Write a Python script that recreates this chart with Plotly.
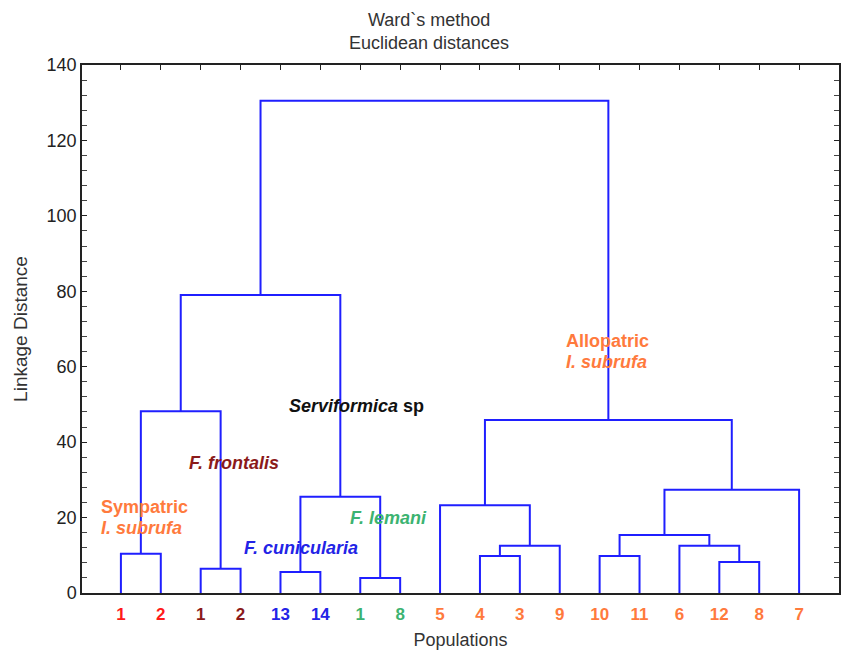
import plotly.graph_objects as go

# Leaves in dendrogram order: population number and taxon group
leaf_labels = ["1", "2", "1", "2", "13", "14", "1", "8", "5", "4", "3", "9",
               "10", "11", "6", "12", "8", "7"]
leaf_groups = ["sym", "sym", "front", "front", "cuni", "cuni", "lem", "lem",
               "allo", "allo", "allo", "allo", "allo", "allo", "allo", "allo",
               "allo", "allo"]

# Ward linkage (ids 0..17 are leaves, 18+ are merged clusters)
merge_left = [6, 4, 2, 15, 9, 12, 0, 22, 14, 23, 8, 19, 27, 28, 24, 32, 33]
merge_right = [7, 5, 3, 16, 10, 13, 1, 11, 21, 26, 25, 18, 17, 30, 20, 29, 31]
merge_height = [4.0, 5.6, 6.4, 8.2, 9.8, 9.8, 10.4, 12.5, 12.5, 15.4, 23.3,
                25.5, 27.4, 45.9, 48.2, 79.0, 130.5]

group_colors = {
    "sym": "#ff1a1a",
    "front": "#8b1a1a",
    "cuni": "#2323e6",
    "lem": "#3cb371",
    "allo": "#ff7a3d",
}

n_leaves = len(leaf_labels)
xpos = {i: i + 1 for i in range(n_leaves)}
hpos = {i: 0.0 for i in range(n_leaves)}

xs, ys = [], []
for k, (a, b, h) in enumerate(zip(merge_left, merge_right, merge_height)):
    node = n_leaves + k
    xa, xb = xpos[a], xpos[b]
    xs += [xa, xa, xb, xb, None]
    ys += [hpos[a], h, h, hpos[b], None]
    xpos[node] = (xa + xb) / 2
    hpos[node] = h

fig = go.Figure()
fig.add_trace(go.Scatter(x=xs, y=ys, mode="lines",
                         line=dict(color="#1f1fff", width=2),
                         hoverinfo="skip", showlegend=False))
# invisible trace anchoring the top tick axis
fig.add_trace(go.Scatter(x=[1], y=[0], xaxis="x2", mode="markers",
                         marker=dict(opacity=0), showlegend=False,
                         hoverinfo="skip"))

tick_vals = [i + 1 for i in range(n_leaves)]
tick_text = [f'<span style="color:{group_colors[g]}"><b>{lab}</b></span>'
             for lab, g in zip(leaf_labels, leaf_groups)]

font_main = "Liberation Sans, Arial, sans-serif"
x_range = [0.025, 19.0]

fig.update_layout(
    width=842, height=651,
    margin=dict(l=82, r=1, t=65, b=58),
    plot_bgcolor="white", paper_bgcolor="white",
    font=dict(family=font_main, color="#333333"),
    showlegend=False,
    xaxis=dict(
        range=x_range, tickmode="array", tickvals=tick_vals, ticktext=tick_text,
        ticks="", showgrid=False, zeroline=False,
        showline=True, linecolor="#222222", linewidth=1.5, mirror=True,
        tickfont=dict(size=17, family=font_main),
        ticklabelstandoff=5,
        title=dict(text="Populations", font=dict(size=18, color="#333333"),
                   standoff=10),
    ),
    xaxis2=dict(
        range=x_range, overlaying="x", side="top", tickmode="array",
        tickvals=tick_vals, showticklabels=False, ticks="inside",
        ticklen=5, tickcolor="#222222", showgrid=False, zeroline=False,
        showline=False,
    ),
    yaxis=dict(
        range=[0, 140], dtick=20, ticks="inside", ticklen=5,
        tickcolor="#222222", showgrid=False, zeroline=False,
        showline=True, linecolor="#222222", linewidth=1.5, mirror="allticks",
        tickfont=dict(size=18, family=font_main, color="#222222"),
        minor=dict(dtick=4, ticks="inside", ticklen=3, tickcolor="#444444"),
        title=dict(text="Linkage Distance", font=dict(size=19, color="#333333"),
                   standoff=14),
    ),
)

# Title lines
fig.add_annotation(text="Ward`s method", xref="paper", yref="paper",
                   x=(430 - 82) / 759, y=(593 - 20) / 528, showarrow=False,
                   font=dict(size=18, color="#333333"), xanchor="center",
                   yanchor="middle")
fig.add_annotation(text="Euclidean distances", xref="paper", yref="paper",
                   x=(430 - 82) / 759, y=(593 - 43) / 528, showarrow=False,
                   font=dict(size=18, color="#333333"), xanchor="center",
                   yanchor="middle")

# Group labels
labels = [
    ("<b>Sympatric</b>", 0.45, 22.8, group_colors["allo"]),
    ("<b><i>I. subrufa</i></b>", 0.45, 17.2, group_colors["allo"]),
    ("<b><i>F. frontalis</i></b>", 2.65, 34.5, group_colors["front"]),
    ("<b><i>F. cunicularia</i></b>", 4.03, 11.9, group_colors["cuni"]),
    ("<b><i>F. lemani</i></b>", 6.7, 19.9, group_colors["lem"]),
    ("<b><i>Serviformica</i> sp</b>", 5.17, 49.6, "#111111"),
    ("<b>Allopatric</b>", 12.1, 66.8, group_colors["allo"]),
    ("<b><i>I. subrufa</i></b>", 12.1, 61.3, group_colors["allo"]),
]
for text, x, y, c in labels:
    fig.add_annotation(text=text, x=x, y=y, xref="x", yref="y",
                       showarrow=False, xanchor="left", yanchor="middle",
                       font=dict(size=18, color=c, family=font_main))

fig.write_html("out.html")
